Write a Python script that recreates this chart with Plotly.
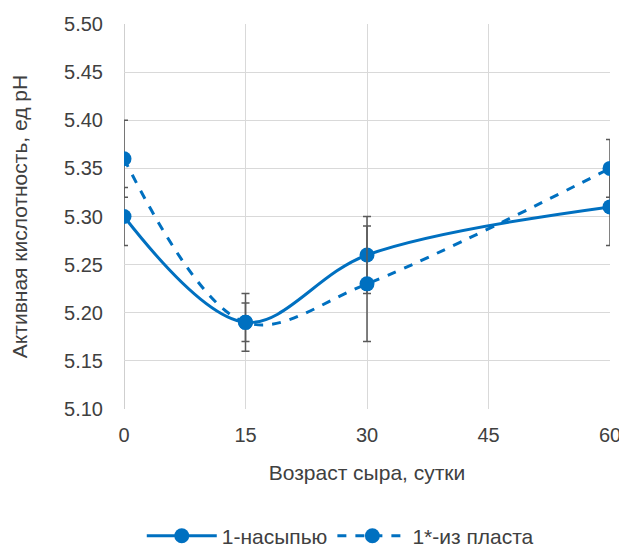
import plotly.graph_objects as go

x_days = [0, 15, 30, 60]
x_ticks = [0, 15, 30, 45, 60]
s1_name = "1-насыпью"
s1_vals = [5.30, 5.19, 5.26, 5.31]
s1_err = [0.03, 0.02, 0.04, 0.04]
s2_name = "1*-из пласта"
s2_vals = [5.36, 5.19, 5.23, 5.35]
s2_err = [0.04, 0.03, 0.06, 0.03]

blue = "#0070C0"
errc = "#595959"
font = "Liberation Sans, Arial, sans-serif"

fig = go.Figure()
fig.add_trace(go.Scatter(
    x=x_days, y=s1_vals, name=s1_name, mode="lines+markers",
    line=dict(color=blue, width=3, shape="spline", smoothing=1.0),
    marker=dict(color=blue, size=15),
    error_y=dict(type="data", array=s1_err, color=errc, thickness=1.5, width=4),
))
fig.add_trace(go.Scatter(
    x=x_days, y=s2_vals, name=s2_name, mode="lines+markers",
    line=dict(color=blue, width=3, shape="spline", smoothing=1.0, dash="dash"),
    marker=dict(color=blue, size=15),
    error_y=dict(type="data", array=s2_err, color=errc, thickness=1.5, width=4),
))

fig.update_layout(
    width=627, height=548,
    margin=dict(l=116, r=25, t=16, b=147, autoexpand=False),
    paper_bgcolor="white", plot_bgcolor="white",
    font=dict(family=font, size=20, color="#404040"),
    showlegend=True,
    legend=dict(orientation="h", x=0.445, xanchor="center", y=-0.33, yanchor="middle",
                font=dict(size=21, color="#404040"), itemwidth=70),
    xaxis=dict(range=[0, 60], tickvals=x_ticks, showgrid=True,
               gridcolor="#D9D9D9", gridwidth=1, zeroline=False,
               showline=False, ticks="", ticklabelstandoff=12,
               title=dict(text="Возраст сыра, сутки", standoff=20, font=dict(size=21)),
               tickfont=dict(size=20)),
    yaxis=dict(range=[5.10, 5.50], dtick=0.05, tickformat=".2f", showgrid=True,
               gridcolor="#D9D9D9", gridwidth=1, zeroline=False,
               showline=False, ticks="", ticklabelstandoff=20,
               title=dict(text="Активная кислотность, ед pH", standoff=33, font=dict(size=21)),
               tickfont=dict(size=20)),
)
fig.add_shape(type="line", xref="x", yref="paper", x0=0, x1=0, y0=0, y1=1,
              line=dict(color="#BFBFBF", width=1.5), layer="below")

fig.write_html("out.html")
